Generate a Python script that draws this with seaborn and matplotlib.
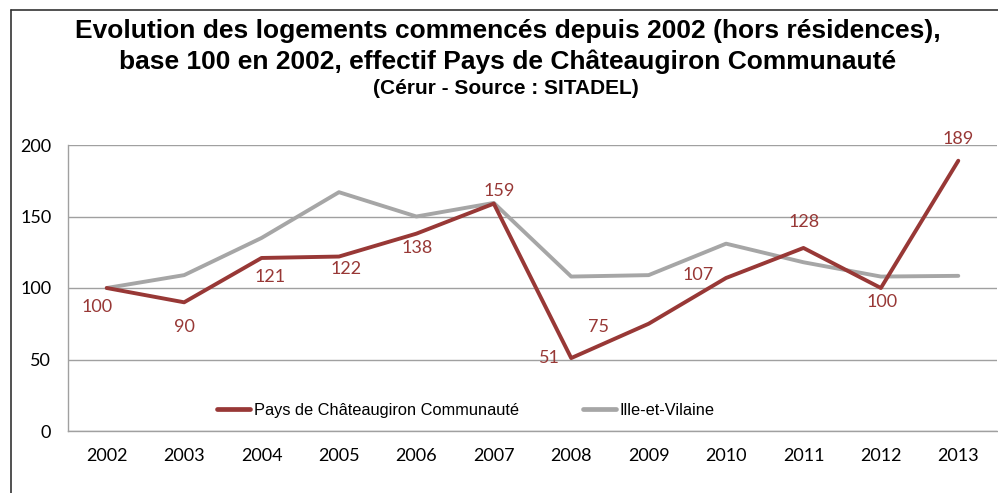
import pandas as pd
import numpy as np
import seaborn as sns
import matplotlib.pyplot as plt
from matplotlib.lines import Line2D

# Data
years = ['2002', '2003', '2004', '2005', '2006', '2007', '2008', '2009', '2010', '2011', '2012', '2013']
chateaugiron = [100, 90, 121, 122, 138, 159, 51, 75, 107, 128, 100, 189]
ille_vilaine = [100, 109, 135, 167, 150, 159.5, 108, 109, 131, 118, 108, 108.5]
series_names = ['Pays de Châteaugiron Communauté', 'Ille-et-Vilaine']

red = '#983836'
grey = '#a6a6a6'

df = pd.DataFrame({
    'year': years * 2,
    'value': chateaugiron + ille_vilaine,
    'serie': [series_names[0]] * len(years) + [series_names[1]] * len(years),
})

sns.set_style('white')
plt.rcParams['font.family'] = ['Liberation Sans', 'DejaVu Sans']
plt.rcParams['text.color'] = 'black'
plt.rcParams['xtick.labelcolor'] = 'black'
plt.rcParams['ytick.labelcolor'] = 'black'

fig = plt.figure(figsize=(9.98, 4.93), dpi=100)
ax = fig.add_axes([68 / 998, 62 / 493, 929 / 998, 286 / 493])

sns.lineplot(data=df, x='year', y='value', hue='serie', sort=False,
             palette=[red, grey], linewidth=2.8, ax=ax, legend=False)
ax.lines[0].set_zorder(3)

ax.set_xlim(-0.5, len(years) - 0.5)
ax.set_ylim(0, 200)
ax.set_yticks([0, 50, 100, 150, 200])
ax.set_xlabel('')
ax.set_ylabel('')
ax.yaxis.grid(True, color='#a0a0a0', linewidth=1)
ax.set_axisbelow(True)

for s in ['top', 'right']:
    ax.spines[s].set_visible(False)
for s in ['left', 'bottom']:
    ax.spines[s].set_color('#a0a0a0')
    ax.spines[s].set_linewidth(1)

ax.set_xticks(np.arange(len(years)))
ax.set_xticklabels(years)
ax.set_xticks(np.arange(len(years) + 1) - 0.5, minor=True)
ax.tick_params(axis='x', which='major', length=0, pad=12, labelsize=13, labelcolor='black')
ax.tick_params(axis='x', which='minor', length=6, color='#a0a0a0', direction='out')
ax.tick_params(axis='y', length=6, color='#a0a0a0', direction='out', pad=6, labelsize=13,
               labelcolor='black')
for lab in ax.get_xticklabels() + ax.get_yticklabels():
    lab.set_family(['Lato', 'DejaVu Sans'])

# data labels, placed around the points like the reference (offsets in points)
offsets = [(-7, -14), (0, -18), (6.5, -14), (5, -9), (0.7, -10), (3.6, 9.4),
           (-16, 0), (-36, -2), (-20, 2), (0.7, 19), (0.7, -10), (0, 16)]
for i, (v, off) in enumerate(zip(chateaugiron, offsets)):
    ax.annotate(str(v), (i, v), xytext=off, textcoords='offset points',
                ha='center', va='center', color=red, fontsize=13,
                family=['Lato', 'DejaVu Sans'])

handles = [Line2D([], [], color=red, linewidth=3.4),
           Line2D([], [], color=grey, linewidth=3.4)]
ax.legend(handles, series_names, loc='center', bbox_to_anchor=(0.428, 0.073),
          ncol=2, frameon=False, fontsize=11.8, handlelength=2.05,
          handletextpad=0.2, columnspacing=3.9, labelcolor='black')

fig.text(0.509, 1 - 31 / 493, 'Evolution des logements commencés depuis 2002 (hors résidences),',
         ha='center', va='center', fontsize=19, fontweight='bold', color='black')
fig.text(0.509, 1 - 62 / 493, 'base 100 en 2002, effectif Pays de Châteaugiron Communauté',
         ha='center', va='center', fontsize=19, fontweight='bold', color='black')
fig.text(0.507, 1 - 89 / 493, '(Cérur - Source : SITADEL)',
         ha='center', va='center', fontsize=15, fontweight='bold', color='black')

# outer frame of the pasted chart
fig.add_artist(Line2D([11 / 998, 11 / 998], [0, 1 - 10 / 493], color='#333333', linewidth=1.2,
                      transform=fig.transFigure))
fig.add_artist(Line2D([11 / 998, 1], [1 - 10 / 493, 1 - 10 / 493], color='#333333', linewidth=1.2,
                      transform=fig.transFigure))

fig.savefig('out.png', dpi=100)
